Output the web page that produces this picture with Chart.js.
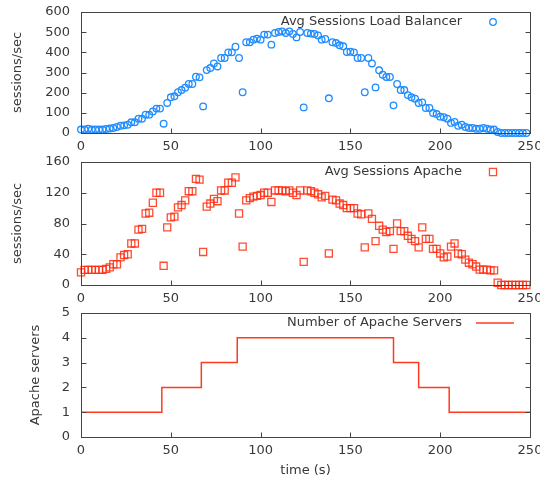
<!DOCTYPE html>
<html lang="en">
<head>
<meta charset="UTF-8">
<title>Avg Sessions and Apache Servers</title>
<script src="https://cdn.jsdelivr.net/npm/chart.js"></script>
<style>
    body {
        margin: 0;
        background: #ffffff;
        width: 540px;
        height: 478px;
        position: relative;
        overflow: hidden;
    }
    canvas {
        position: absolute;
        left: 0;
    }
</style>
</head>
<body>
<canvas id="lbChart" width="540" height="155" style="top:0"></canvas>
<canvas id="apacheChart" width="540" height="150" style="top:155px"></canvas>
<canvas id="serverChart" width="540" height="173" style="top:305px"></canvas>

<script>
// sample times (s)
const times = [
    0, 2, 4, 6, 8, 10, 12, 14, 16, 18,
    20, 22, 24, 26, 28, 30, 32, 34, 36, 38,
    40, 42, 44, 46, 48, 50, 52, 54, 56, 58,
    60, 62, 64, 66, 68, 70, 72, 74, 76, 78,
    80, 82, 84, 86, 88, 90, 92, 94, 96, 98,
    100, 102, 104, 106, 108, 110, 112, 114, 116, 118,
    120, 122, 124, 126, 128, 130, 132, 134, 136, 138,
    140, 142, 144, 146, 148, 150, 152, 154, 156, 158,
    160, 162, 164, 166, 168, 170, 172, 174, 176, 178,
    180, 182, 184, 186, 188, 190, 192, 194, 196, 198,
    200, 202, 204, 206, 208, 210, 212, 214, 216, 218,
    220, 222, 224, 226, 228, 230, 232, 234, 236, 238,
    240, 242, 244, 246, 248
];

const lbSessions = [
    17, 17, 21, 17, 17, 17, 17, 20, 22, 25,
    30, 36, 38, 41, 53, 53, 71, 71, 91, 91,
    107, 121, 121, 46, 149, 177, 182, 202, 213, 225,
    243, 243, 279, 276, 132, 312, 322, 345, 330, 372,
    372, 400, 400, 428, 372, 202, 450, 450, 463, 468,
    463, 488, 488, 438, 496, 501, 504, 496, 504, 491,
    474, 501, 127, 496, 493, 491, 484, 463, 466, 172,
    450, 446, 435, 430, 402, 403, 400, 372, 372, 202,
    372, 345, 226, 311, 289, 278, 278, 137, 243, 213,
    213, 188, 177, 170, 149, 152, 124, 124, 99, 94,
    81, 78, 71, 50, 55, 36, 41, 30, 25, 25,
    21, 21, 25, 21, 17, 17, 5, 0, 0, 0,
    0, 0, 0, 0, 0
];

const apacheSessions = [
    16.5, 19.6, 19.6, 19.6, 19.6, 19.6, 19.6, 21, 23, 27,
    27, 36, 39, 40, 54, 54, 72, 73, 93, 94,
    107, 120, 120, 25, 75, 88, 89, 101, 104, 110,
    122, 122, 138, 137, 43, 102, 106, 112, 109, 123,
    123, 133, 133, 140, 93, 50, 110, 113, 115, 116,
    117, 120, 120, 108, 123, 123, 123, 122, 123, 120,
    117, 123, 30, 123, 122, 120, 118, 114, 116, 41,
    111, 110, 106, 104, 100, 100, 100, 93, 92, 49,
    93, 86, 57, 77, 72, 69, 70, 47, 80, 70,
    70, 64, 60, 57, 49, 75, 60, 60, 47, 47,
    41, 36, 37, 50, 54, 41, 40, 33, 29, 27,
    24, 20, 20, 20, 19, 19, 3, 0, 0, 0,
    0, 0, 0, 0, 0
];

// Apache server count changes
const serverTimes = [0, 45, 67, 87, 174, 188, 205, 250];
const serverCounts = [1, 2, 3, 4, 3, 2, 1, 1];

Chart.defaults.font.family = '"DejaVu Sans", sans-serif';
Chart.defaults.font.size = 13;
Chart.defaults.color = '#383838';

// gnuplot style box, inward ticks and a legend in the top right corner
const framePlugin = {
    id: 'frame',
    afterDatasetsDraw(chart) {
        const { ctx, chartArea: a, scales: { x, y } } = chart;
        const l = Math.round(a.left) + 0.5, r = Math.round(a.right) + 0.5;
        const t = Math.round(a.top) + 0.5, b = Math.round(a.bottom) + 0.5;
        ctx.save();
        ctx.strokeStyle = '#444444';
        ctx.lineWidth = 1;
        ctx.strokeRect(l, t, r - l, b - t);
        ctx.beginPath();
        y.ticks.forEach(tk => {
            const py = Math.round(y.getPixelForValue(tk.value)) + 0.5;
            ctx.moveTo(l, py); ctx.lineTo(l + 5, py);
            ctx.moveTo(r, py); ctx.lineTo(r - 5, py);
        });
        x.ticks.forEach(tk => {
            const px = Math.round(x.getPixelForValue(tk.value)) + 0.5;
            ctx.moveTo(px, b); ctx.lineTo(px, b - 5);
        });
        ctx.stroke();

        const ds = chart.data.datasets[0];
        const ly = a.top + 10;
        ctx.font = '13px "DejaVu Sans", sans-serif';
        ctx.fillStyle = '#383838';
        ctx.textAlign = 'right';
        ctx.textBaseline = 'middle';
        ctx.fillText(ds.label, a.right - 68, ly);
        ctx.strokeStyle = ds.borderColor;
        ctx.lineWidth = ds.borderWidth;
        const sx = a.right - 37;
        ctx.beginPath();
        if (ds.pointStyle === 'circle') {
            ctx.arc(sx, ly, ds.pointRadius, 0, Math.PI * 2);
        } else if (ds.pointStyle === 'rect') {
            const h = ds.pointRadius * Math.SQRT1_2;
            ctx.rect(sx - h, ly - h, 2 * h, 2 * h);
        } else {
            ctx.moveTo(a.right - 54, ly);
            ctx.lineTo(a.right - 16, ly);
        }
        ctx.stroke();
        ctx.restore();
    }
};

function buildScales(yMax, yStep, yTitle, titlePad, xHeight, xTitle) {
    return {
        x: {
            type: 'linear',
            min: 0,
            max: 250,
            grid: { display: false, drawTicks: false },
            border: { display: false },
            ticks: { stepSize: 50, padding: 6, maxRotation: 0 },
            title: { display: !!xTitle, text: xTitle, padding: 0 },
            afterFit: s => { s.height = xHeight; s.paddingLeft = 0; s.paddingRight = 0; }
        },
        y: {
            min: 0,
            max: yMax,
            grid: { display: false, drawTicks: false },
            border: { display: false },
            ticks: { stepSize: yStep, padding: 11 },
            title: { display: true, text: yTitle, padding: { top: titlePad, bottom: 0 } },
            afterFit: s => { s.width = 81; s.paddingTop = 0; s.paddingBottom = 0; }
        }
    };
}

function baseOptions(padTop, scales) {
    return {
        responsive: false,
        animation: false,
        layout: { padding: { top: padTop, right: 10, left: 0, bottom: 0 } },
        plugins: { legend: { display: false }, tooltip: { enabled: false } },
        scales: scales
    };
}

// Load balancer sessions
new Chart(document.getElementById('lbChart'), {
    type: 'scatter',
    data: {
        datasets: [{
            label: 'Avg Sessions Load Balancer',
            data: times.map((t, i) => ({ x: t, y: lbSessions[i] })),
            pointStyle: 'circle',
            pointRadius: 3.3,
            borderWidth: 1.3,
            borderColor: '#1f8cff',
            backgroundColor: 'rgba(0,0,0,0)',
            clip: false
        }]
    },
    options: baseOptions(12, buildScales(600, 100, 'sessions/sec', 10, 22, '')),
    plugins: [framePlugin]
});

// Apache sessions
new Chart(document.getElementById('apacheChart'), {
    type: 'scatter',
    data: {
        datasets: [{
            label: 'Avg Sessions Apache',
            data: times.map((t, i) => ({ x: t, y: apacheSessions[i] })),
            pointStyle: 'rect',
            pointRadius: 5,
            borderWidth: 1.3,
            borderColor: 'rgba(255,45,15,0.85)',
            backgroundColor: 'rgba(0,0,0,0)',
            clip: false
        }]
    },
    options: baseOptions(7, buildScales(160, 20, 'sessions/sec', 10, 20, '')),
    plugins: [framePlugin]
});

// Number of Apache servers
new Chart(document.getElementById('serverChart'), {
    type: 'line',
    data: {
        datasets: [{
            label: 'Number of Apache Servers',
            data: serverTimes.map((t, i) => ({ x: t, y: serverCounts[i] })),
            stepped: 'before',
            pointRadius: 0,
            pointStyle: 'line',
            borderWidth: 1.5,
            borderColor: '#ff3b1f',
            fill: false,
            clip: false
        }]
    },
    options: baseOptions(8, buildScales(5, 1, 'Apache servers', 28, 41, 'time (s)')),
    plugins: [framePlugin]
});
</script>
</body>
</html>
